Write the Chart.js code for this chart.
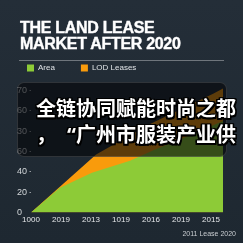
<!DOCTYPE html>
<html>
<head>
<meta charset="utf-8">
<script src="https://cdn.jsdelivr.net/npm/chart.js@4/dist/chart.umd.min.js"></script>
<style>
  html, body {
    margin: 0;
    padding: 0;
    width: 243px;
    height: 243px;
    overflow: hidden;
    background: linear-gradient(#242e38, #1e2831);
  }
  #wrap { position: relative; width: 243px; height: 243px; }
  #chart-box { position: absolute; left: 0; top: 0; width: 243px; height: 243px; }
  #title {
    position: absolute;
    left: 20px;
    top: 20px;
    font: bold 16px/16px "Liberation Sans", Arial, sans-serif;
    letter-spacing: -0.3px;
    color: #fff;
    -webkit-text-stroke: 0.4px #fff;
    white-space: nowrap;
  }
  #rule {
    position: absolute;
    left: 19px;
    top: 60px;
    width: 205px;
    height: 1px;
    background: rgba(255, 255, 255, 0.35);
  }
  #footer {
    position: absolute;
    right: 7px;
    top: 229px;
    font: 7px/10px "Liberation Sans", Arial, sans-serif;
    color: #c8ccd0;
    white-space: nowrap;
  }
  #overlay {
    position: absolute;
    left: 17px;
    top: 82px;
    width: 208px;
    height: 73px;
    border-radius: 7px;
    background: rgba(4, 7, 9, 0.64);
    border: 1px solid rgba(255, 255, 255, 0.14);
  }
  #caption {
    position: absolute;
    left: 36px;
    top: 95px;
    font: bold 20px/26px "Noto Sans CJK SC", sans-serif;
    color: #fff;
    white-space: nowrap;
    text-shadow:
      -1.5px -1.5px 0 #000, 1.5px -1.5px 0 #000, -1.5px 1.5px 0 #000, 1.5px 1.5px 0 #000,
      0 -1.5px 0 #000, 0 1.5px 0 #000, -1.5px 0 0 #000, 1.5px 0 0 #000;
  }
  #caption .q {
    display: inline-block;
    width: 20px;
    text-align: right;
    font-family: "Noto Sans", sans-serif;
    font-weight: bold;
  }
</style>
</head>
<body>
<div id="wrap">
  <div id="chart-box"><canvas id="chart"></canvas></div>
  <div id="title">THE LAND LEASE<br>MARKET AFTER 2020</div>
  <div id="rule"></div>
  <div id="footer">2011 Lease 2020</div>
  <div id="overlay"></div>
  <div id="caption">全链协同赋能时尚之都<br>，<span class="q">“</span>广州市服装产业供</div>
</div>
<script>
// x tick labels as printed under the axis
const xLabels = ["1000", "2019", "2013", "1019", "2016", "2019", "2015"];
// y tick values and the text printed next to them
const yTicks = [0, 20, 40, 60, 80, 100, 120];
const yLabels = ["0", "20", "40", "60", "30", "60", "70"];

// series, x in tick-index units
const areaX = [0, 0.95, 2.03, 3.3, 4.1, 5.3, 6.4];
const areaY = [0, 24, 39, 51, 61.5, 76, 90];
const lodX = [0, 2.17, 3.97, 6.07, 6.4];
const lodY = [0, 57, 87, 117, 122];

const GREEN = "#8dcb37";
const ORANGE = "#f99b0c";

const toPoints = (xs, ys) => xs.map((x, i) => ({ x, y: ys[i] }));

const data = {
  datasets: [
    {
      label: "Area",
      data: toPoints(areaX, areaY),
      backgroundColor: GREEN,
      borderColor: GREEN,
      borderWidth: 0,
      fill: "origin",
      pointRadius: 0,
      tension: 0,
    },
    {
      label: "LOD Leases",
      data: toPoints(lodX, lodY),
      backgroundColor: ORANGE,
      borderColor: ORANGE,
      borderWidth: 0,
      fill: "origin",
      pointRadius: 0,
      tension: 0,
    },
  ],
};

const config = {
  type: "line",
  data,
  options: {
    responsive: true,
    maintainAspectRatio: false,
    animation: false,
    devicePixelRatio: 1,
    layout: { padding: { left: 17, right: 20, top: 54, bottom: 15 } },
    plugins: {
      title: { display: false },
      tooltip: { enabled: false },
      legend: {
        display: true,
        position: "top",
        align: "start",
        labels: {
          boxWidth: 7,
          boxHeight: 7,
          padding: 10,
          color: "#dfe3e6",
          font: { family: "Liberation Sans", size: 8 },
          generateLabels: (chart) =>
            Chart.defaults.plugins.legend.labels
              .generateLabels(chart)
              .map((item, i) => ({
                ...item,
                text: i === 0 ? item.text + "\u2003\u2003" : item.text,
                lineWidth: 0,
              })),
        },
      },
    },
    scales: {
      x: {
        type: "linear",
        min: 0,
        max: 6.4,
        grid: { display: false, drawTicks: false },
        border: { display: false },
        afterBuildTicks: (scale) => {
          scale.ticks = xLabels.map((_, i) => ({ value: i }));
        },
        ticks: {
          padding: 3,
          maxRotation: 0,
          autoSkip: false,
          color: "#e4e6e8",
          font: { family: "Liberation Sans", size: 8 },
          callback: (value) => xLabels[value] ?? "",
        },
      },
      y: {
        min: 0,
        max: 128.5,
        grid: { display: false, drawTicks: false },
        border: { display: false },
        afterBuildTicks: (scale) => {
          scale.ticks = yTicks.map((value) => ({ value }));
        },
        afterFit: (scale) => {
          scale.width = 14;
        },
        ticks: {
          z: 1,
          padding: 0,
          crossAlign: "far",
          autoSkip: false,
          color: "#d3d7da",
          font: { family: "Liberation Sans", size: 9 },
          callback: (value) => {
            const label = yLabels[yTicks.indexOf(value)] ?? "";
            return value > 0 ? label + " \u2013" : label;
          },
        },
      },
    },
  },
};

new Chart(document.getElementById("chart"), config);
</script>
</body>
</html>
